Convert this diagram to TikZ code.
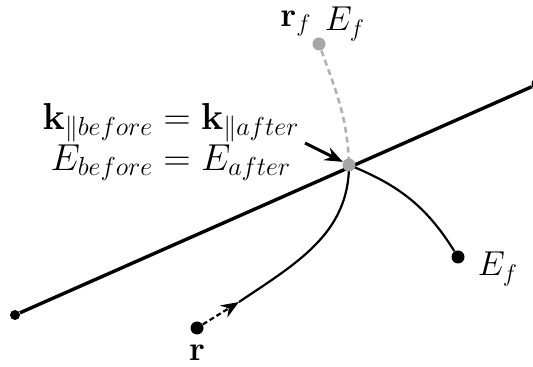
\documentclass[tikz,border=0pt]{standalone}
\usepackage{amsmath, amssymb}
\usepackage{tikz}
\usetikzlibrary{arrows.meta,positioning,calc}
\tikzset{
  dot/.style={circle, fill=black, inner sep=0pt, minimum size=6.5pt},
  gdot/.style={circle, fill=gray!70, inner sep=0pt, minimum size=6.5pt},
  lbl/.style={font=\fontsize{17.28}{20.5}\selectfont, inner sep=1pt},
}
\newcommand{\bigger}[1]{\scalebox{1.085}{#1}}
\begin{document}
\begin{tikzpicture}[
  x=0.5pt, y=0.5pt,
  surface/.style={line width=1.7pt},
  path/.style={line width=1.1pt},
  ghost/.style={line width=1.3pt, gray!60, dashed, dash pattern=on 3pt off 2pt},
  arr/.style={-{Stealth[length=9pt,width=7pt,inset=3pt]}, line width=1.1pt}
]
  \useasboundingbox (0,0) rectangle (533,367);
  % interface
  \node[dot, minimum size=5pt] (L) at (15,52) {};
  \node[dot] (R) at (538,283) {};
  \draw[surface] (L) -- (R);
  % crossing point
  \coordinate (X) at (349,202);
  \node[gdot] (Rf) at (319,323) {};
  \node[dot] (Ef) at (458,110) {};
  \node[dot] (r) at (197,39) {};
  \coordinate (tip) at (239,65);
  % paths
  \draw[ghost] (Rf) to[out=-70,in=92] (X);
  \draw[path] (X) to[out=-22,in=122] (Ef);
  \draw[path] (tip) to[out=34,in=-90] (X);
  \draw[arr, dashed, dash pattern=on 2.5pt off 1.5pt] (r) -- (tip);
  \node[gdot] (Xd) at (X) {};
  % labels
  \node[lbl] (rfl) at (296,343) {$\mathbf{r}_f$};
  \node[lbl] (Eft) at (345,343) {$E_f$};
  \node[lbl] (rl) at (197,14) {$\mathbf{r}$};
  \node[lbl] (Efl) at (498,98) {$E_f$};
  \node[lbl, align=center] (cons) at (171,225)
    {\bigger{$\mathbf{k}_{\parallel before}=\mathbf{k}_{\parallel after}$}\\
     \bigger{$E_{before}=E_{after}$}};
  \coordinate (as) at (305,224);
  \draw[arr, line width=1.5pt] (as) -- (Xd);
\end{tikzpicture}
\end{document}
